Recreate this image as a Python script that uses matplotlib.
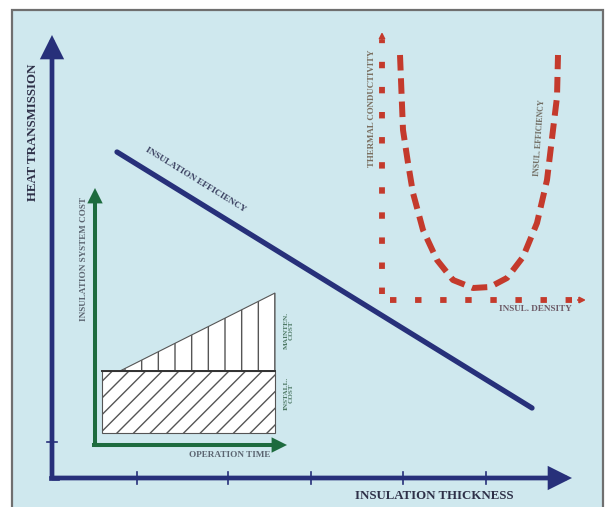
import numpy as np
import matplotlib
matplotlib.use("Agg")
import matplotlib.pyplot as plt
from matplotlib.patches import Rectangle, Polygon

# ---------------- data (diagram canvas units, y grows downward) ----------------
# main chart: heat transmission vs insulation thickness
main_origin = (52, 478)
main_x_end = 572
main_y_end = 35
main_x_ticks = [137, 228, 311, 403, 486]
main_y_ticks = [442]
efficiency_x = [117, 532]
efficiency_y = [152, 408]

# inset: insulation system cost vs operation time
cost_origin = (95, 445)
cost_x_end = 287
cost_y_end = 188
install_x = [102, 275]          # left, right
install_y = [433, 371]          # bottom, top
maint_x = [120, 275, 275]
maint_y = [371, 293, 371]

# inset: thermal conductivity vs insulation density
dens_origin = (382, 300)
dens_x_end = 586
dens_y_end = 32
conduct_x = [400, 403, 408, 413, 423, 437, 453, 473, 490, 507, 523, 537, 547, 553, 557, 558]
conduct_y = [55, 130, 163, 193, 230, 260, 280, 288, 287, 278, 257, 223, 180, 130, 97, 55]

# colours
BG = "#cfe8ee"
NAVY = "#27307a"
GREEN = "#1d6b3e"
RED = "#c43a2c"
TXT = "#2e3048"
SMALL = "#5b6470"
SERIF = ["Liberation Serif", "DejaVu Serif"]

fig = plt.figure(figsize=(6.09, 5.07), dpi=100)
ax = fig.add_axes([0, 0, 1, 1])
ax.set_xlim(0, 609)
ax.set_ylim(507, 0)
ax.axis("off")

ax.add_patch(Rectangle((12, 10), 591, 505, facecolor=BG, edgecolor="#6f6f6f", lw=1.6, zorder=0))


def arrow(x0, y0, x1, y1, color, lw, ms, z=3):
    ax.annotate("", xy=(x1, y1), xytext=(x0, y0),
                arrowprops=dict(arrowstyle="-|>", color=color, lw=lw, mutation_scale=ms,
                                shrinkA=0, shrinkB=0, joinstyle="miter", capstyle="butt"),
                zorder=z)


# ---------------- main axes ----------------
ox, oy = main_origin
arrow(ox, oy, ox, main_y_end, NAVY, 3.4, 30)
arrow(ox, oy, main_x_end, oy, NAVY, 3.4, 30)
ax.plot([ox - 1.5, ox + 5], [oy, oy], color=NAVY, lw=3.4, solid_capstyle="projecting", zorder=3)
for t in main_x_ticks:
    ax.plot([t, t], [oy - 6, oy + 6], color=NAVY, lw=1.2, zorder=3)
for t in main_y_ticks:
    ax.plot([ox - 5, ox + 5], [t, t], color=NAVY, lw=1.2, zorder=3)

ax.text(33, 132, "HEAT TRANSMISSION", rotation=90, ha="center", va="center",
        family=SERIF, weight="bold", fontsize=9.3, color=TXT)
ax.text(434, 496, "INSULATION THICKNESS", ha="center", va="center",
        family=SERIF, weight="bold", fontsize=9.3, color=TXT)

# efficiency line
ax.plot(efficiency_x, efficiency_y, color=NAVY, lw=3.8, solid_capstyle="round", zorder=4)
ang = -np.degrees(np.arctan2(efficiency_y[1] - efficiency_y[0], efficiency_x[1] - efficiency_x[0]))
ax.text(196, 180, "INSULATION EFFICIENCY", rotation=ang, rotation_mode="anchor",
        ha="center", va="center", family=SERIF, weight="bold", fontsize=6.6, color="#3a4060")

# ---------------- cost inset ----------------
cx, cy = cost_origin
ax.add_patch(Rectangle((install_x[0], install_y[1]), install_x[1] - install_x[0],
                       install_y[0] - install_y[1], facecolor="white", edgecolor="#555555",
                       hatch="//", lw=0.8, zorder=2))
ax.add_patch(Polygon(list(zip(maint_x, maint_y)), closed=True, facecolor="white",
                     edgecolor="#555555", hatch="|", lw=0.8, zorder=2))
ax.plot([install_x[0], install_x[1]], [install_y[1], install_y[1]], color="#333333", lw=1.4, zorder=3)

arrow(cx, cy, cx, cost_y_end, GREEN, 2.9, 16)
arrow(cx, cy, cost_x_end, cy, GREEN, 2.9, 16)
ax.plot([cx - 1, cx + 4], [cy, cy], color=GREEN, lw=2.9, solid_capstyle="projecting", zorder=3)

ax.text(84, 259, "INSULATION SYSTEM COST", rotation=90, ha="center", va="center",
        family=SERIF, weight="bold", fontsize=6.6, color=SMALL)
ax.text(230, 455, "OPERATION TIME", ha="center", va="center",
        family=SERIF, weight="bold", fontsize=6.6, color=SMALL)
ax.text(289, 330, "MAINTEN.\nCOST", rotation=90, ha="center", va="center",
        family=SERIF, weight="bold", fontsize=5.2, color="#4f7a66", linespacing=1.0)
ax.text(289, 393, "INSTALL.\nCOST", rotation=90, ha="center", va="center",
        family=SERIF, weight="bold", fontsize=5.2, color="#4f7a66", linespacing=1.0)

# ---------------- density inset ----------------
dx, dy = dens_origin
ax.plot([dx, dx], [dy - 6, dens_y_end + 8], color=RED, lw=4.2, linestyle=(0, (1.1, 3.2)), zorder=3)
ax.plot([dx + 8, dens_x_end - 8], [dy, dy], color=RED, lw=4.2, linestyle=(0, (1.1, 3.2)), zorder=3)
arrow(dx, dens_y_end + 9, dx, dens_y_end, RED, 1.0, 10)
arrow(dens_x_end - 9, dy, dens_x_end, dy, RED, 1.0, 10)

ax.plot(conduct_x, conduct_y, color=RED, lw=4.3, linestyle=(0, (2.6, 1.3)), zorder=3)

ax.text(372, 108, "THERMAL CONDUCTIVITY", rotation=90, ha="center", va="center",
        family=SERIF, weight="bold", fontsize=6.4, color="#7a6f60")
ax.text(540, 138, "INSUL. EFFICIENCY", rotation=86, ha="center", va="center",
        family=SERIF, weight="bold", fontsize=5.7, color="#6e6a60")
ax.text(535, 309, "INSUL. DENSITY", ha="center", va="center",
        family=SERIF, weight="bold", fontsize=6.6, color="#6c5a66")

fig.savefig("out.png", dpi=100, facecolor="white")
